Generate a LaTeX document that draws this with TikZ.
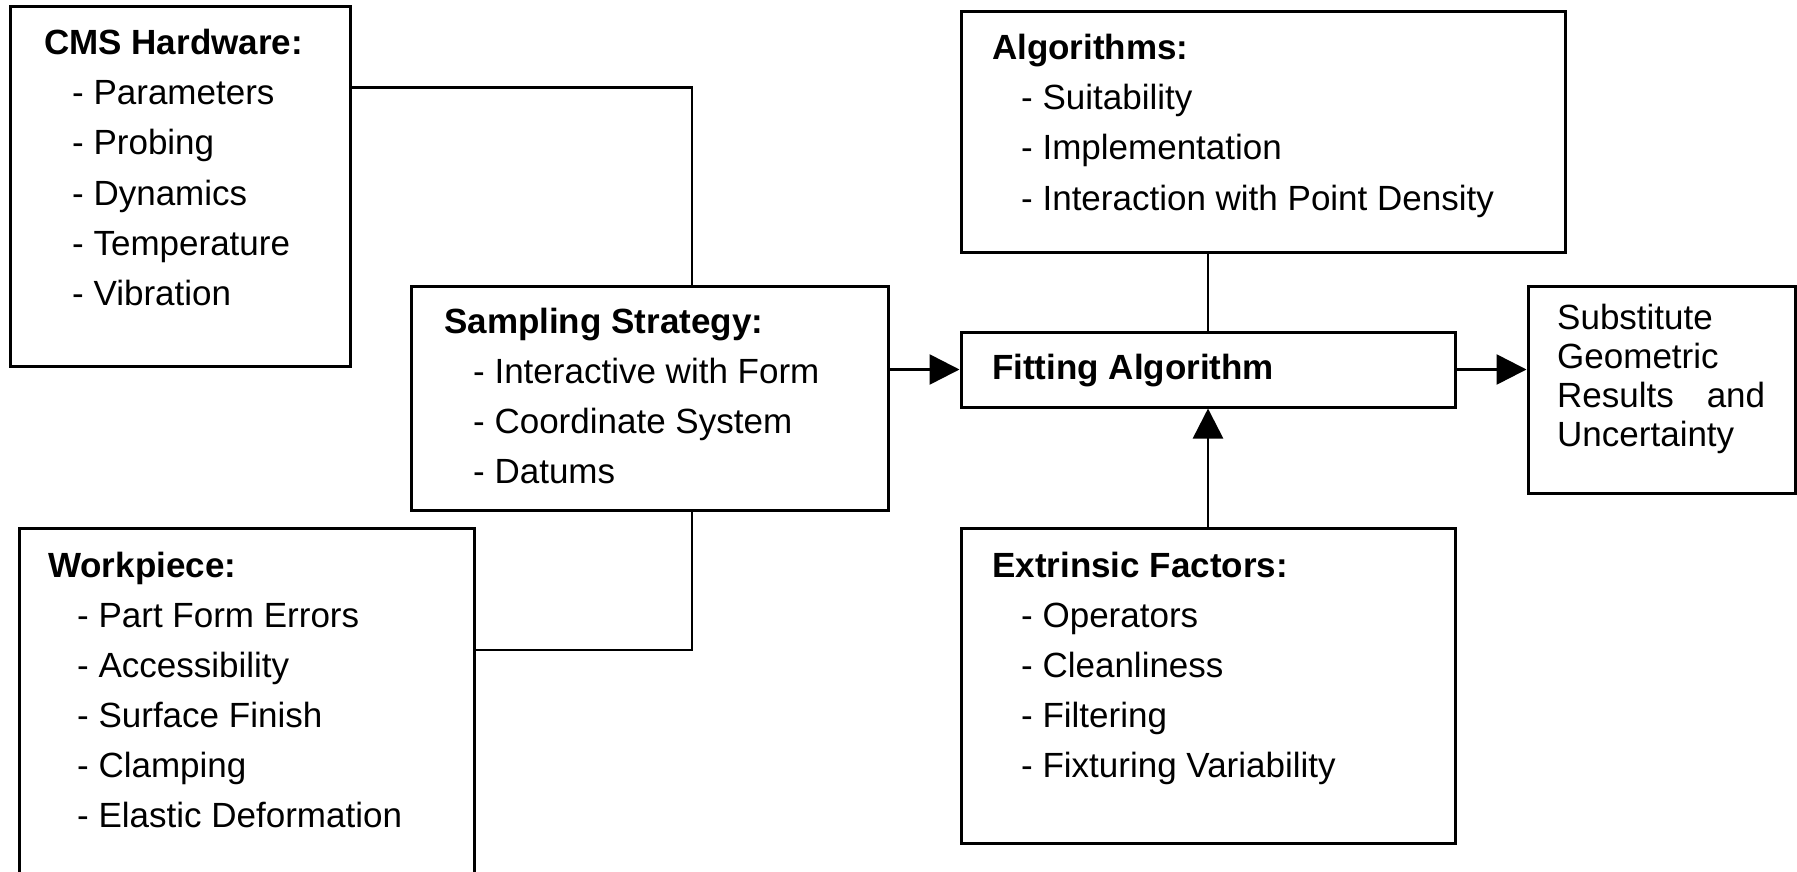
\documentclass[tikz,border=0pt]{standalone}
\usepackage{fontspec}
\setmainfont{Liberation Sans}
\usetikzlibrary{arrows.meta,calc}
\begin{document}
\begin{tikzpicture}[x=1pt,y=-1pt,
  box/.style={draw=black, line width=3pt, rectangle, inner sep=0pt},
  txt/.style={anchor=base west, inner sep=0pt, font=\fontsize{35}{42}\selectfont},
  head/.style={txt, font=\fontsize{35}{42}\selectfont\bfseries},
  conn/.style={line width=2.6pt},
  arr/.style={conn, -{Triangle[length=30pt,width=30pt]}}]
\useasboundingbox (0,0) rectangle (1797,872);
\clip (0,0) rectangle (1797,872);
\fill[white] (0,0) rectangle (1797,872);

% boxes
\node[box, minimum width=340pt, minimum height=359pt] (cms)  at (180,186.5) {};
\node[box, minimum width=477pt, minimum height=224pt] (samp) at (649.5,398) {};
\node[box, minimum width=455pt, minimum height=372pt] (wp)   at (246.5,714) {};
\node[box, minimum width=604pt, minimum height=240pt] (alg)  at (1263,132) {};
\node[box, minimum width=494pt, minimum height=75pt]  (fit)  at (1208,369.5) {};
\node[box, minimum width=267pt, minimum height=207pt] (sub)  at (1661.5,389.5) {};
\node[box, minimum width=494pt, minimum height=315pt] (ext)  at (1208,685.5) {};

% CMS hardware
\node[head] (cms-t) at (44,55) {CMS Hardware:};
\foreach \t [count=\i] in {Parameters,Probing,Dynamics,Temperature,Vibration}
  \node[txt] (cms-\i) at (72,55+50*\i) {- \t};

% sampling strategy
\node[head] (samp-t) at (444,333) {Sampling Strategy:};
\foreach \t [count=\i] in {Interactive with Form,Coordinate System,Datums}
  \node[txt] (samp-\i) at (473,333+50*\i) {- \t};

% workpiece
\node[head] (wp-t) at (48,577) {Workpiece:};
\foreach \t [count=\i] in {Part Form Errors,Accessibility,Surface Finish,Clamping,Elastic Deformation}
  \node[txt] (wp-\i) at (77,577+50*\i) {- \t};

% algorithms
\node[head] (alg-t) at (992,60) {Algorithms:};
\foreach \t [count=\i] in {Suitability,Implementation,Interaction with Point Density}
  \node[txt] (alg-\i) at (1021,60+50*\i) {- \t};

% fitting algorithm
\node[head] (fit-t) at (992,379) {Fitting Algorithm};

% extrinsic factors
\node[head] (ext-t) at (992,577) {Extrinsic Factors:};
\foreach \t [count=\i] in {Operators,Cleanliness,Filtering,Fixturing Variability}
  \node[txt] (ext-\i) at (1021,577+50*\i) {- \t};

% results
\node[txt] (sub-1) at (1557,329) {Substitute};
\node[txt] (sub-2) at (1557,368) {Geometric};
\node[txt] (sub-3) at (1557,407) {\makebox[208pt][l]{Results\hfill and}};
\node[txt] (sub-4) at (1557,446) {Uncertainty};

% connectors
\draw[conn] ($(cms.north east)+(0,82)$) -| ($(samp.north west)+(282.5,0)$);
\draw[conn] ($(samp.south west)+(282.5,0)$) |- ($(wp.north east)+(0,123.5)$);
\draw[arr] (fit.west -| samp.east) -- (fit.west);
\draw[arr] (fit.east) -- (fit.east -| sub.west);
\draw[conn] (alg.south -| fit.north) -- (fit.north);
\draw[arr] (ext.north) -- (fit.south);
\end{tikzpicture}
\end{document}
